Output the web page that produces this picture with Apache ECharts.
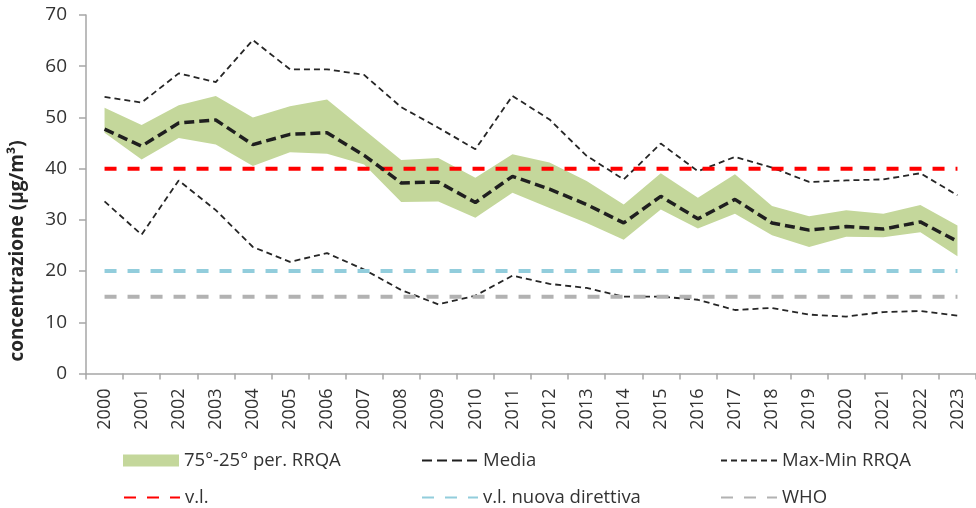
<!DOCTYPE html>
<html>
<head>
<meta charset="utf-8">
<script src="https://cdn.jsdelivr.net/npm/echarts@6/dist/echarts.min.js"></script>
<style>html,body{margin:0;padding:0;background:#fff}#c{width:976px;height:508px}</style>
</head>
<body>
<div id="c"></div>
<script>
const years = ['2000','2001','2002','2003','2004','2005','2006','2007','2008','2009','2010','2011','2012','2013','2014','2015','2016','2017','2018','2019','2020','2021','2022','2023'];
const p75 = [51.9,48.5,52.4,54.2,50.0,52.2,53.5,47.6,41.7,42.1,38.2,42.8,41.2,37.6,33.0,39.1,34.3,38.9,32.7,30.7,31.9,31.2,32.9,28.9];
const p25 = [47.0,41.8,46.0,44.7,40.5,43.2,42.9,40.8,33.5,33.6,30.4,35.3,32.3,29.4,26.1,32.0,28.3,31.2,27.0,24.7,26.7,26.6,27.6,22.9];
const media = [47.7,44.4,48.9,49.5,44.7,46.7,47.0,42.6,37.2,37.4,33.4,38.5,36.0,33.0,29.4,34.6,30.2,34.0,29.4,28.0,28.7,28.2,29.6,25.8];
const maxRRQA = [54.0,52.9,58.6,56.9,65.1,59.4,59.4,58.3,52.0,48.0,43.8,54.2,49.6,42.5,37.9,44.9,39.5,42.3,40.2,37.4,37.7,37.9,39.1,34.8];
const minRRQA = [33.6,27.1,37.7,31.9,24.7,21.8,23.5,20.3,16.3,13.5,15.2,19.1,17.5,16.7,15.0,15.0,14.4,12.4,12.8,11.5,11.1,12.0,12.2,11.3];
const vl = [40,40,40,40,40,40,40,40,40,40,40,40,40,40,40,40,40,40,40,40,40,40,40,40];
const vlNuova = [20,20,20,20,20,20,20,20,20,20,20,20,20,20,20,20,20,20,20,20,20,20,20,20];
const who = [15,15,15,15,15,15,15,15,15,15,15,15,15,15,15,15,15,15,15,15,15,15,15,15];
const yTicks = [0,10,20,30,40,50,60,70];

const bandDiff = p75.map((v, i) => +(v - p25[i]).toFixed(2));
const FONT = '"Open Sans", "Liberation Sans", sans-serif';
const txt = '#333333';

const chart = echarts.init(document.getElementById('c'), null, {renderer: 'canvas'});

function leg(name, left, top, icon) {
  const d = icon ? {name: name, icon: icon} : {name: name};
  const l = {
    data: [d], left: left, top: top, itemWidth: 56, itemHeight: 12, itemGap: 0,
    textStyle: {fontFamily: FONT, fontSize: 18.5, color: txt, padding: [0,0,0,0]},
    selectedMode: false
  };
  if (!icon) l.itemStyle = {opacity: 0};
  return l;
}

chart.setOption({
  animation: false,
  textStyle: {fontFamily: FONT},
  grid: {left: 86, top: 15, bottom: 134.5, width: 895, containLabel: false},
  legend: [
    leg('75°-25° per. RRQA', 118, 446, 'rect'),
    leg('Media', 416, 446),
    leg('Max-Min RRQA', 715, 446),
    leg('v.l.', 118, 483),
    leg('v.l. nuova direttiva', 416, 483),
    leg('WHO', 715, 483)
  ],
  xAxis: {
    type: 'category', data: years, boundaryGap: true,
    axisLine: {lineStyle: {color: '#A6A6A6', width: 1.5}},
    axisTick: {show: true, length: 6, lineStyle: {color: '#A6A6A6', width: 1.5}},
    axisLabel: {rotate: 90, fontSize: 18, color: txt, margin: 15, fontFamily: FONT},
    splitLine: {show: false}
  },
  yAxis: {
    type: 'value', min: 0, max: 70, interval: 10,
    axisLine: {show: true, lineStyle: {color: '#A6A6A6', width: 1.5}},
    axisTick: {show: true, length: 7, lineStyle: {color: '#A6A6A6', width: 1.5}},
    axisLabel: {fontSize: 19, color: txt, margin: 19, fontFamily: FONT,
      formatter: v => yTicks.indexOf(v) >= 0 ? String(v) : ''},
    splitLine: {show: false}
  },
  graphic: [{
    type: 'text', rotation: Math.PI / 2, x: 18, y: 251,
    style: {text: 'concentrazione (µg/m³)', font: 'bold 19px ' + FONT, fill: '#262626',
      textAlign: 'center', textVerticalAlign: 'middle'}
  }],
  series: [
    {name: 'base', type: 'line', data: p25, stack: 'band', symbol: 'none',
      lineStyle: {width: 0, opacity: 0}, areaStyle: {opacity: 0}, silent: true, z: 1},
    {name: '75°-25° per. RRQA', type: 'line', data: bandDiff, stack: 'band', symbol: 'none',
      itemStyle: {color: '#C4D79B'}, lineStyle: {width: 0, color: '#C4D79B'},
      areaStyle: {color: '#C4D79B', opacity: 1}, z: 2},
    {name: 'Max-Min RRQA', type: 'line', data: maxRRQA, symbol: 'none',
      itemStyle: {color: '#262626'}, lineStyle: {color: '#262626', width: 1.8, type: [6, 4]}, z: 3},
    {name: 'Max-Min RRQA', type: 'line', data: minRRQA, symbol: 'none',
      itemStyle: {color: '#262626'}, lineStyle: {color: '#262626', width: 1.8, type: [6, 4]}, z: 3},
    {name: 'WHO', type: 'line', data: who, symbol: 'none',
      itemStyle: {color: '#B2B2B2'}, lineStyle: {color: '#B2B2B2', width: 4, type: [12, 11]}, z: 4},
    {name: 'v.l. nuova direttiva', type: 'line', data: vlNuova, symbol: 'none',
      itemStyle: {color: '#92CDDC'}, lineStyle: {color: '#92CDDC', width: 4, type: [12, 11]}, z: 4},
    {name: 'v.l.', type: 'line', data: vl, symbol: 'none',
      itemStyle: {color: '#FF0000'}, lineStyle: {color: '#FF0000', width: 4, type: [12, 11]}, z: 5},
    {name: 'Media', type: 'line', data: media, symbol: 'none',
      itemStyle: {color: '#1F1F1F'}, lineStyle: {color: '#1F1F1F', width: 3.5, type: [10, 5]}, z: 6}
  ]
});
</script>
</body>
</html>
